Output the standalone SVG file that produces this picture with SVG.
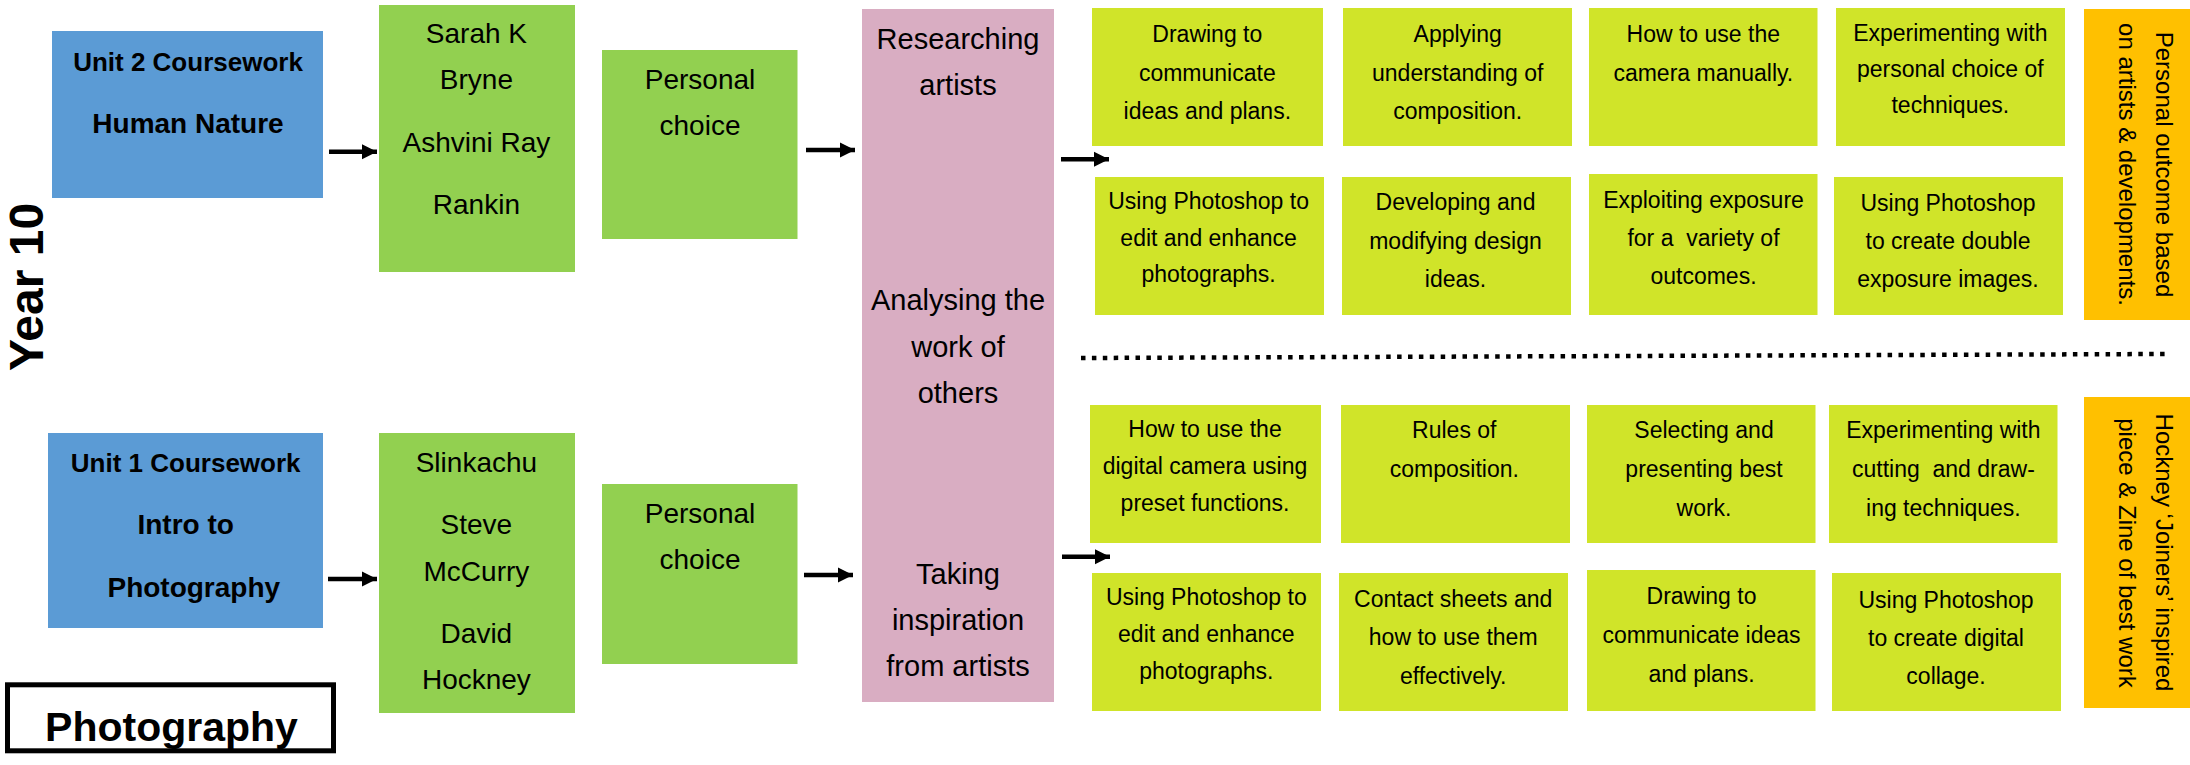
<svg xmlns="http://www.w3.org/2000/svg" width="2190" height="765" viewBox="0 0 2190 765">
<style>
text{font-family:"Liberation Sans",Arial,sans-serif;fill:#000;text-anchor:middle}
.blue{fill:#5B9BD5}
.green{fill:#92D050}
.pink{fill:#D9ADC2}
.lime{fill:#D0E429}
.orange{fill:#FFC000}
.bt{font-size:26px;font-weight:bold}
.gt{font-size:28px}
.pt{font-size:29px}
.lt{font-size:23px}
.ot{font-size:24px}
.arrow{stroke:#000;stroke-width:4.5;fill:none}
</style>
<defs>
<marker id="ah" markerUnits="userSpaceOnUse" markerWidth="16" markerHeight="16" viewBox="0 0 16 16" refX="15" refY="8" orient="auto">
<path d="M0,0.5 L15,8 L0,15.5 Z" fill="#000"/>
</marker>
</defs>
<rect width="2190" height="765" fill="#fff"/>

<g id="year10"><text transform="translate(43,287) rotate(-90)" style="font-size:48px;font-weight:bold">Year 10</text></g>

<g id="title">
<rect x="7.5" y="684.8" width="326" height="66" fill="#fff" stroke="#000" stroke-width="5"/>
<text x="171.5" y="741" style="font-size:41px;font-weight:bold">Photography</text>
</g>

<g id="unit2">
<rect class="blue" x="52" y="31" width="271" height="167"/>
<text class="bt" x="188" y="70.7">Unit 2 Coursework</text>
<text class="bt" x="188" y="132.7" style="font-size:28px">Human Nature</text>
</g>
<g id="unit1">
<rect class="blue" x="48" y="433" width="275" height="195"/>
<text class="bt" x="185.7" y="471.7">Unit 1 Coursework</text>
<text class="bt" x="185.7" y="534" style="font-size:28px">Intro to</text>
<text class="bt" x="193.8" y="596.7" style="font-size:28px">Photography</text>
</g>

<g id="artists2">
<rect class="green" x="379" y="5" width="196" height="267"/>
<text class="gt" x="476.4" y="42.7">Sarah K</text>
<text class="gt" x="476.4" y="89">Bryne</text>
<text class="gt" x="476.4" y="151.7">Ashvini Ray</text>
<text class="gt" x="476.4" y="214">Rankin</text>
</g>
<g id="artists1">
<rect class="green" x="379" y="433" width="196" height="280"/>
<text class="gt" x="476.4" y="471.7">Slinkachu</text>
<text class="gt" x="476.4" y="534">Steve</text>
<text class="gt" x="476.4" y="580.7">McCurry</text>
<text class="gt" x="476.4" y="643.3">David</text>
<text class="gt" x="476.4" y="689.3">Hockney</text>
</g>

<g id="personal2">
<rect class="green" x="602" y="50" width="195.5" height="189"/>
<text class="gt" x="700" y="89.3">Personal</text>
<text class="gt" x="700" y="135">choice</text>
</g>
<g id="personal1">
<rect class="green" x="602" y="484" width="195.5" height="180"/>
<text class="gt" x="700" y="523.3">Personal</text>
<text class="gt" x="700" y="569.3">choice</text>
</g>

<g id="research">
<rect class="pink" x="862" y="9" width="192" height="693"/>
<text class="pt" x="958" y="49">Researching</text>
<text class="pt" x="958" y="95">artists</text>
<text class="pt" x="958" y="310">Analysing the</text>
<text class="pt" x="958" y="356.7">work of</text>
<text class="pt" x="958" y="403.3">others</text>
<text class="pt" x="958" y="584">Taking</text>
<text class="pt" x="958" y="630">inspiration</text>
<text class="pt" x="958" y="676">from artists</text>
</g>

<g id="s1">
<rect class="lime" x="1092" y="8" width="231" height="138"/>
<text class="lt" x="1207.3" y="41.7">Drawing to</text>
<text class="lt" x="1207.3" y="81">communicate</text>
<text class="lt" x="1207.3" y="119">ideas and plans.</text>
</g>
<g id="s2">
<rect class="lime" x="1343" y="8" width="229" height="138"/>
<text class="lt" x="1457.7" y="41.7">Applying</text>
<text class="lt" x="1457.7" y="81">understanding of</text>
<text class="lt" x="1457.7" y="119">composition.</text>
</g>
<g id="s3">
<rect class="lime" x="1589" y="8" width="228.5" height="138"/>
<text class="lt" x="1703.3" y="41.7">How to use the</text>
<text class="lt" x="1703.3" y="81">camera manually.</text>
</g>
<g id="s4">
<rect class="lime" x="1836" y="8" width="229" height="138"/>
<text class="lt" x="1950.3" y="40.7">Experimenting with</text>
<text class="lt" x="1950.3" y="77.3">personal choice of</text>
<text class="lt" x="1950.3" y="113.3">techniques.</text>
</g>
<g id="s5">
<rect class="lime" x="1095" y="177" width="229" height="138"/>
<text class="lt" x="1208.6" y="209">Using Photoshop to</text>
<text class="lt" x="1208.6" y="246">edit and enhance</text>
<text class="lt" x="1208.6" y="281.7">photographs.</text>
</g>
<g id="s6">
<rect class="lime" x="1342" y="177" width="229" height="138"/>
<text class="lt" x="1455.5" y="210">Developing and</text>
<text class="lt" x="1455.5" y="248.7">modifying design</text>
<text class="lt" x="1455.5" y="286.7">ideas.</text>
</g>
<g id="s7">
<rect class="lime" x="1589" y="174" width="228.5" height="141"/>
<text class="lt" x="1703.5" y="208.3">Exploiting exposure</text>
<text class="lt" x="1703.5" y="245.7" xml:space="preserve">for a  variety of</text>
<text class="lt" x="1703.5" y="284">outcomes.</text>
</g>
<g id="s8">
<rect class="lime" x="1834" y="177" width="229" height="138"/>
<text class="lt" x="1948" y="210.7">Using Photoshop</text>
<text class="lt" x="1948" y="249.3">to create double</text>
<text class="lt" x="1948" y="287.3">exposure images.</text>
</g>
<g id="outcome2">
<rect class="orange" x="2084" y="9" width="106" height="311"/>
<text class="ot" transform="translate(2156,164.5) rotate(90)">Personal outcome based</text>
<text class="ot" transform="translate(2119,164.5) rotate(90)">on artists &amp; developments.</text>
</g>

<g id="t1">
<rect class="lime" x="1090" y="405" width="231" height="138"/>
<text class="lt" x="1205" y="437.3">How to use the</text>
<text class="lt" x="1205" y="474">digital camera using</text>
<text class="lt" x="1205" y="510.7">preset functions.</text>
</g>
<g id="t2">
<rect class="lime" x="1341" y="405" width="229" height="138"/>
<text class="lt" x="1454.3" y="438.3">Rules of</text>
<text class="lt" x="1454.3" y="476.7">composition.</text>
</g>
<g id="t3">
<rect class="lime" x="1587" y="405" width="228.5" height="138"/>
<text class="lt" x="1704" y="438.3">Selecting and</text>
<text class="lt" x="1704" y="477.3">presenting best</text>
<text class="lt" x="1704" y="516">work.</text>
</g>
<g id="t4">
<rect class="lime" x="1829" y="405" width="228.5" height="138"/>
<text class="lt" x="1943.4" y="438.3">Experimenting with</text>
<text class="lt" x="1943.4" y="477.3" xml:space="preserve">cutting  and draw-</text>
<text class="lt" x="1943.4" y="516">ing techniques.</text>
</g>
<g id="t5">
<rect class="lime" x="1092" y="573" width="229" height="138"/>
<text class="lt" x="1206.3" y="605">Using Photoshop to</text>
<text class="lt" x="1206.3" y="642.3">edit and enhance</text>
<text class="lt" x="1206.3" y="679">photographs.</text>
</g>
<g id="t6">
<rect class="lime" x="1339" y="573" width="229" height="138"/>
<text class="lt" x="1453.2" y="607.3">Contact sheets and</text>
<text class="lt" x="1453.2" y="645">how to use them</text>
<text class="lt" x="1453.2" y="684">effectively.</text>
</g>
<g id="t7">
<rect class="lime" x="1587" y="570" width="228.5" height="141"/>
<text class="lt" x="1701.5" y="604">Drawing to</text>
<text class="lt" x="1701.5" y="642.7">communicate ideas</text>
<text class="lt" x="1701.5" y="681.7">and plans.</text>
</g>
<g id="t8">
<rect class="lime" x="1832" y="573" width="229" height="138"/>
<text class="lt" x="1946" y="607.7">Using Photoshop</text>
<text class="lt" x="1946" y="645.7">to create digital</text>
<text class="lt" x="1946" y="684">collage.</text>
</g>
<g id="outcome1">
<rect class="orange" x="2084" y="397" width="106" height="311"/>
<text class="ot" transform="translate(2156,552.5) rotate(90)">Hockney ‘Joiners’ inspired</text>
<text class="ot" transform="translate(2119,553) rotate(90)">piece &amp; Zine of best work</text>
</g>

<g id="connectors">
<line class="arrow" x1="329" y1="151.7" x2="377" y2="151.7" marker-end="url(#ah)"/>
<line class="arrow" x1="328" y1="579" x2="377" y2="579" marker-end="url(#ah)"/>
<line class="arrow" x1="806" y1="150" x2="855" y2="150" marker-end="url(#ah)"/>
<line class="arrow" x1="804" y1="575" x2="853" y2="575" marker-end="url(#ah)"/>
<line class="arrow" x1="1061" y1="159.3" x2="1109" y2="159.3" marker-end="url(#ah)"/>
<line class="arrow" x1="1062" y1="556.7" x2="1110" y2="556.7" marker-end="url(#ah)"/>
<line x1="1081" y1="358" x2="2165" y2="354" stroke="#000" stroke-width="4.5" stroke-dasharray="4.5 6.4"/>
</g>
</svg>
